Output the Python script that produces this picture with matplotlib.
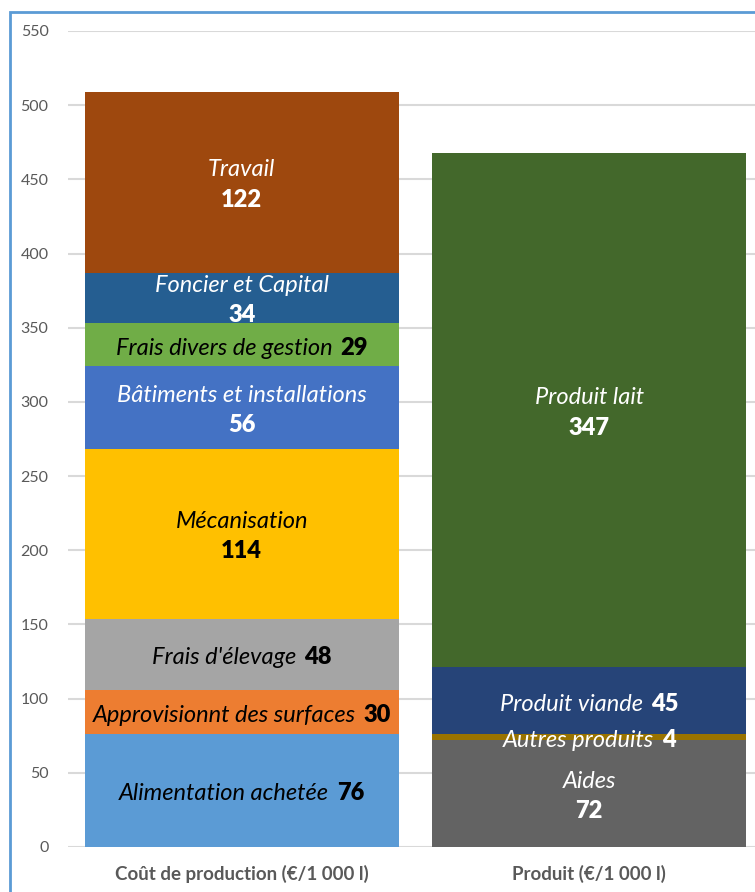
import matplotlib
matplotlib.use("Agg")
import matplotlib.pyplot as plt
from matplotlib.patches import Rectangle
from matplotlib.offsetbox import TextArea, HPacker, VPacker, AnnotationBbox

plt.rcParams['font.family'] = ['Lato', 'DejaVu Sans']

categories = ["Coût de production (€/1 000 l)", "Produit (€/1 000 l)"]

# left bar (bottom to top)
cost_names = ["Alimentation achetée", "Approvisionnt des surfaces", "Frais d'élevage",
              "Mécanisation", "Bâtiments et installations", "Frais divers de gestion",
              "Foncier et Capital", "Travail"]
cost_values = [76, 30, 48, 114, 56, 29, 34, 122]
cost_colors = ["#5B9BD5", "#ED7D31", "#A5A5A5", "#FFC000", "#4472C4", "#70AD47",
               "#255E91", "#9E480E"]
cost_txt = ["black", "black", "black", "black", "white", "black", "white", "white"]
cost_two_lines = [False, False, False, True, True, False, True, True]

# right bar (bottom to top)
prod_names = ["Aides", "Autres produits", "Produit viande", "Produit lait"]
prod_values = [72, 4, 45, 347]
prod_colors = ["#636363", "#997300", "#264478", "#43682B"]
prod_txt = ["white", "white", "white", "white"]
prod_two_lines = [True, False, False, True]

fig = plt.figure(figsize=(7.55, 8.92), dpi=100)
ax = fig.add_axes([68 / 755, 1 - 847 / 892, 695 / 755, 816 / 892])

fs = 17


def seg_label(x, y, name, value, color, two):
    t1 = TextArea(name, textprops=dict(color=color, fontsize=fs, style='italic'))
    t2 = TextArea(str(value), textprops=dict(color=color, fontsize=fs, weight='heavy'))
    if two:
        box = VPacker(children=[t1, t2], align="center", pad=0, sep=6)
    else:
        box = HPacker(children=[t1, t2], align="baseline", pad=0, sep=6)
    ab = AnnotationBbox(box, (x, y), xybox=(0, -2), xycoords='data',
                        boxcoords='offset points', frameon=False,
                        box_alignment=(0.5, 0.5), pad=0)
    ax.add_artist(ab)


def stack(x, names, values, colors, txt, two):
    bottom = 0
    for n, v, c, tc, tw in zip(names, values, colors, txt, two):
        ax.bar(x, v, bottom=bottom, width=0.905, color=c, zorder=2)
        seg_label(x, bottom + v / 2, n, v, tc, tw)
        bottom += v


stack(0, cost_names, cost_values, cost_colors, cost_txt, cost_two_lines)
stack(1, prod_names, prod_values, prod_colors, prod_txt, prod_two_lines)

ax.set_xlim(-0.5, 1.5)
ax.set_ylim(0, 550)
ax.set_yticks(range(0, 551, 50))
ax.yaxis.grid(True, color="#D9D9D9", linewidth=1.5, zorder=0)
ax.set_axisbelow(True)
for s in ax.spines.values():
    s.set_visible(False)
ax.tick_params(axis='both', length=0)
ax.tick_params(axis='y', labelsize=11.5, labelcolor="#595959", pad=14)
ax.set_xticks([0, 1])
ax.set_xticklabels(categories, fontsize=13.5, color="#595959", fontweight='bold')
ax.tick_params(axis='x', pad=13)

# chart border
fig.patches.append(Rectangle((10 / 755, -0.2), 1.2, 1.2 - 12 / 892,
                             transform=fig.transFigure, fill=False,
                             edgecolor="#5B9BD5", linewidth=2))

fig.savefig("out.png", dpi=100)
